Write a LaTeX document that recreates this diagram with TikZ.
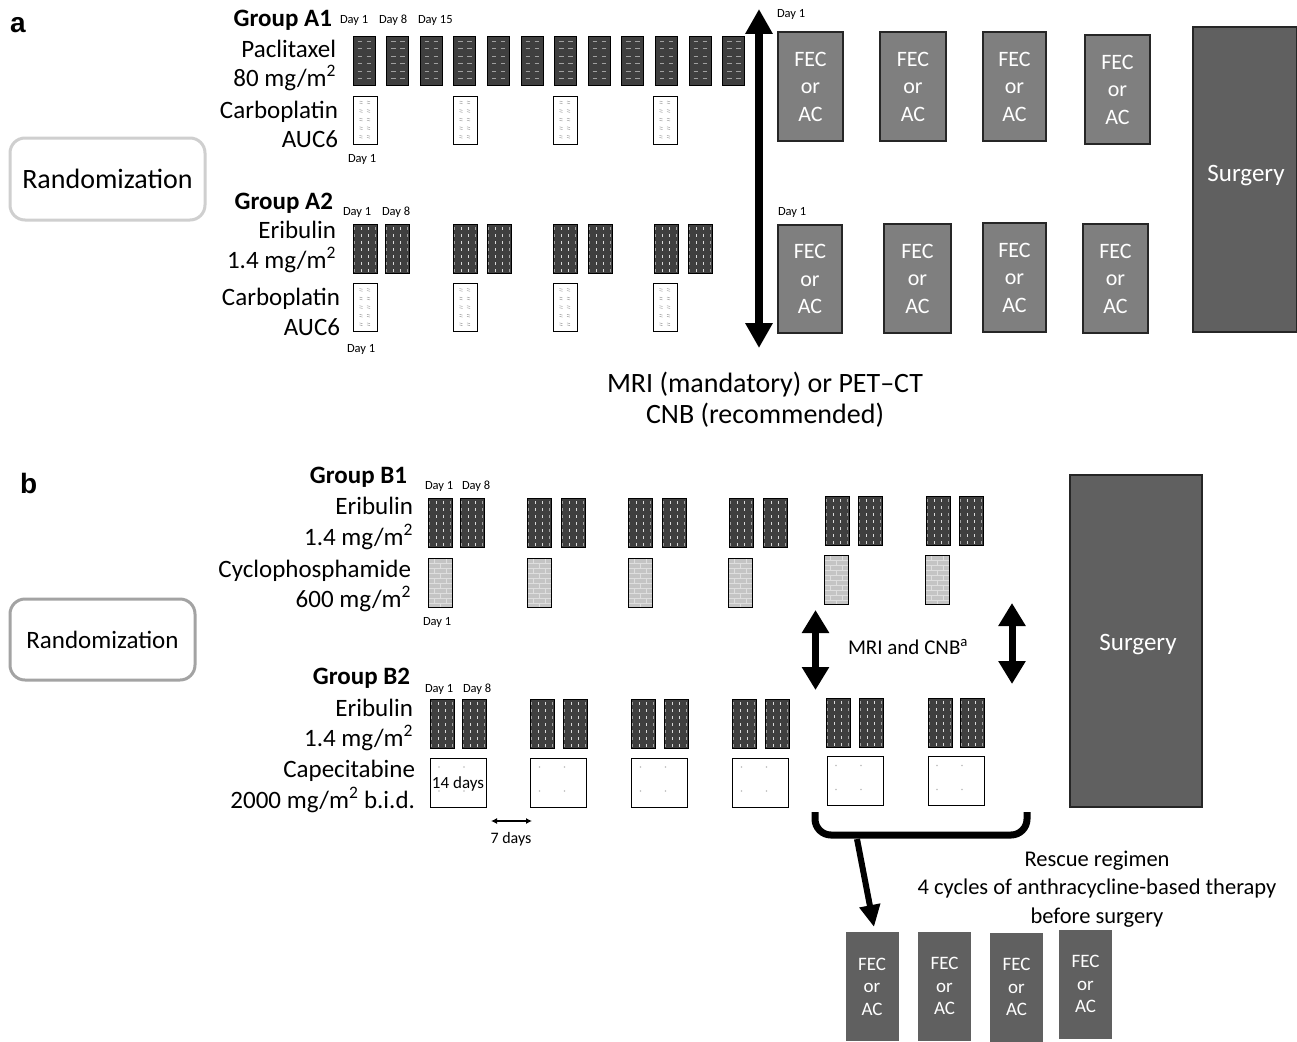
\documentclass[tikz,border=0pt]{standalone}
\usepackage{fontspec}
\setmainfont{Carlito}
\newfontfamily\panelfont{Liberation Sans}
\usetikzlibrary{arrows.meta,calc}

\definecolor{drugdark}{HTML}{3F3F3F}
\definecolor{fecgray}{HTML}{7F7F7F}
\definecolor{surggray}{HTML}{606060}
\definecolor{cyclogray}{HTML}{C4C4C4}
\definecolor{brickline}{HTML}{DEDEDE}
\definecolor{randAcol}{HTML}{CFCFCF}
\definecolor{randBcol}{HTML}{A3A3A3}
\definecolor{markgray}{HTML}{A0A0A0}

\newcommand{\sqm}{m\textsuperscript{2}}

\begin{document}
\begin{tikzpicture}[x=1pt,y=-1pt,
  every node/.style={inner sep=0pt, outer sep=0pt},
  lbl/.style={font=\fontsize{25}{30}\selectfont, anchor=base east},
  grp/.style={font=\fontsize{25}{30}\selectfont\bfseries, anchor=base east},
  daylbl/.style={font=\fontsize{12.5}{15}\selectfont, anchor=base west},
  panellbl/.style={font=\fontsize{28}{32}\panelfont\bfseries, anchor=base west},
  paclbox/.style={draw=black, line width=1pt, fill=drugdark, minimum width=22pt, minimum height=48pt,
    path picture={\foreach \r in {0,...,5}{
       \draw[markgray, line width=0.8pt] ($(path picture bounding box.north west)+(4.5,4.5+7.4*\r)$) -- ++(4.5,0);
       \draw[markgray, line width=0.8pt] ($(path picture bounding box.north west)+(13.5,4.5+7.4*\r)$) -- ++(4.5,0);}}},
  eribox/.style={draw=black, line width=1pt, fill=drugdark, minimum width=24pt, minimum height=49pt,
    path picture={
      \foreach \dx in {8.5,15.5}{\draw[white!85!black, line width=1pt, dash pattern=on 3pt off 4pt] ($(path picture bounding box.north west)+(\dx,3)$) -- ++(0,46);}
      \foreach \dx in {1.5,22.5}{\draw[markgray, line width=0.5pt, dash pattern=on 3pt off 4pt] ($(path picture bounding box.north west)+(\dx,3)$) -- ++(0,46);}}},
  carbox/.style={draw=black, line width=1pt, fill=white, minimum width=24pt, minimum height=48pt,
    path picture={\foreach \r in {0,...,4}{\foreach \dx in {6.5,14}{
      \draw[markgray, line width=0.5pt] ($(path picture bounding box.north west)+(\dx,5+8.6*\r)$) -- ++(3,0.8);
      \draw[markgray, line width=0.5pt] ($(path picture bounding box.north west)+(\dx,7+8.6*\r)$) -- ++(3,0.8);}}}},
  cycbox/.style={draw=black, line width=1pt, fill=cyclogray, minimum width=24pt, minimum height=49pt,
    path picture={
      \foreach \r in {1,...,9}{\draw[brickline, line width=0.7pt] ($(path picture bounding box.north west)+(0,5*\r)$) -- ++(24,0);}
      \foreach \r in {0,2,4,6,8}{
        \draw[brickline, line width=0.7pt] ($(path picture bounding box.north west)+(6,5*\r)$) -- ++(0,5);
        \draw[brickline, line width=0.7pt] ($(path picture bounding box.north west)+(18,5*\r)$) -- ++(0,5);}
      \foreach \r in {1,3,5,7,9}{
        \draw[brickline, line width=0.7pt] ($(path picture bounding box.north west)+(12,5*\r)$) -- ++(0,5);}}},
  capbox/.style={draw=black, line width=1pt, fill=white, minimum width=56pt, minimum height=49pt,
    path picture={\foreach \px/\py in {9/9,34/9,9/33,34/33}{
      \fill[markgray!70] ($(path picture bounding box.north west)+(\px,\py)$) circle (0.8pt);}}},
  fecA/.style={draw=black!85, line width=1.5pt, fill=fecgray, text=white, align=center,
    font=\fontsize{22}{27.5}\selectfont},
  surgbox/.style={draw=black!85, line width=1.5pt, fill=surggray, text=white,
    font=\fontsize{25}{30}\selectfont},
  fecR/.style={fill=surggray, text=white, align=center, minimum width=53pt, minimum height=109pt,
    font=\fontsize{19}{22.5}\selectfont},
  randbox/.style={line width=3pt, rounded corners=15pt, fill=white},
  bigarrow/.style={line width=8pt, {Triangle[width=26pt,length=25pt]}-{Triangle[width=26pt,length=25pt]}},
  midarrow/.style={line width=7pt, {Triangle[width=26pt,length=23pt]}-{Triangle[width=26pt,length=23pt]}},
]
\useasboundingbox (0,0) rectangle (1297,1041);
\fill[white] (0,0) rectangle (1297,1041);

% ================= panel a =================
\node[panellbl] (pa) at (10,33) {a};
\node[randbox, draw=randAcol, minimum width=195pt, minimum height=82pt,
      font=\fontsize{28}{32}\selectfont] (randA) at (107.5,179) {Randomization};

% Group A1
\node[grp] (gA1) at (332,27) {Group A1};
\node[daylbl] (dA1a) at (340,24) {Day 1};
\node[daylbl] (dA1b) at (379,24) {Day 8};
\node[daylbl] (dA1c) at (418,24) {Day 15};
\node[lbl] (pacl) at (336,57) {Paclitaxel};
\node[lbl] (pacld) at (336,86) {80 mg/\sqm};
\node[lbl] (carbA1) at (338,118) {Carboplatin};
\node[lbl] (carbA1d) at (338,147) {AUC6};
\node[daylbl] (dA1d) at (348,162) {Day 1};
\foreach \k in {0,...,11}{
  \node[paclbox] (pac\k) at (364+33.6*\k,61) {};
}
\foreach \x [count=\i] in {365,465,565,665}{
  \node[carbox] (cA1\i) at (\x,120) {};
}

% Group A2
\node[grp] (gA2) at (333,209) {Group A2};
\node[daylbl] (dA2a) at (343,215) {Day 1};
\node[daylbl] (dA2b) at (382,215) {Day 8};
\node[lbl] (eriA2) at (336,238) {Eribulin};
\node[lbl] (eriA2d) at (336,268) {1.4 mg/\sqm};
\node[lbl] (carbA2) at (340,305) {Carboplatin};
\node[lbl] (carbA2d) at (340,335) {AUC6};
\node[daylbl] (dA2c) at (347,352) {Day 1};
\foreach \x [count=\i] in {365,397,465,499,565,600,666,700}{
  \node[eribox] (eA2\i) at (\x,248.5) {};
}
\foreach \x [count=\i] in {365,465,565,665}{
  \node[carbox] (cA2\i) at (\x,307.5) {};
}

% assessment arrow
\coordinate (mriTop) at (759,9);
\coordinate (mriBot) at (759,348);
\draw[bigarrow] (mriTop) -- (mriBot);
\node[font=\fontsize{28}{31}\selectfont, align=center, anchor=base] (mriTxt) at (765,423)
  {MRI (mandatory) or PET–CT\\CNB (recommended)};

% FEC / AC cycles
\node[daylbl] (dFa) at (777,18) {Day 1};
\node[daylbl] (dFb) at (778,215) {Day 1};
\node[fecA, minimum width=65pt, minimum height=109pt] (fa1) at (810.5,86.5) {FEC\\or\\AC};
\node[fecA, minimum width=66pt, minimum height=109pt] (fa2) at (913,86.5) {FEC\\or\\AC};
\node[fecA, minimum width=63pt, minimum height=109pt] (fa3) at (1014.5,86.5) {FEC\\or\\AC};
\node[fecA, minimum width=65pt, minimum height=109pt] (fa4) at (1117.5,89.5) {FEC\\or\\AC};
\node[fecA, minimum width=64pt, minimum height=108pt] (fb1) at (810,279) {FEC\\or\\AC};
\node[fecA, minimum width=67pt, minimum height=109pt] (fb2) at (917.5,278.5) {FEC\\or\\AC};
\node[fecA, minimum width=63pt, minimum height=109pt] (fb3) at (1014.5,277.5) {FEC\\or\\AC};
\node[fecA, minimum width=65pt, minimum height=109pt] (fb4) at (1115.5,278.5) {FEC\\or\\AC};
\node[surgbox, minimum width=104pt, minimum height=305pt] (surgA) at (1245,179.5) {};
\node[text=white, font=\fontsize{25}{30}\selectfont] (surgAt) at (1246,176) {Surgery};

% ================= panel b =================
\node[panellbl] (pb) at (20,493) {b};
\node[randbox, draw=randBcol, minimum width=185pt, minimum height=81pt,
      font=\fontsize{25}{30}\selectfont] (randB) at (102.5,639.5) {Randomization};

% Group B1
\node[grp] (gB1) at (407,483) {Group B1};
\node[daylbl] (dB1a) at (425,489) {Day 1};
\node[daylbl] (dB1b) at (462,489) {Day 8};
\node[lbl] (eriB1) at (413,514) {Eribulin};
\node[lbl] (eriB1d) at (413,545) {1.4 mg/\sqm};
\node[lbl] (cycB1) at (411,577) {Cyclophosphamide};
\node[lbl] (cycB1d) at (411,607) {600 mg/\sqm};
\node[daylbl] (dB1c) at (423,625) {Day 1};
\foreach \x [count=\i] in {440,472,539,573,640,674,741,775}{
  \node[eribox] (eB1\i) at (\x,522.5) {};
}
\foreach \x [count=\i] in {837,870,938,971}{
  \node[eribox] (eB1x\i) at (\x,520.5) {};
}
\foreach \x [count=\i] in {440,539,640,740}{
  \node[cycbox] (yB1\i) at (\x,582.5) {};
}
\foreach \x [count=\i] in {836,937}{
  \node[cycbox] (yB1x\i) at (\x,580) {};
}

% Group B2
\node[grp] (gB2) at (410,684) {Group B2};
\node[daylbl] (dB2a) at (425,692) {Day 1};
\node[daylbl] (dB2b) at (463,692) {Day 8};
\node[lbl] (eriB2) at (413,716) {Eribulin};
\node[lbl] (eriB2d) at (413,746) {1.4 mg/\sqm};
\node[lbl] (capB2) at (415,777) {Capecitabine};
\node[lbl] (capB2d) at (415,808) {2000 mg/\sqm{} b.i.d.};
\foreach \x [count=\i] in {442,474,542,575,643,676,744,777}{
  \node[eribox] (eB2\i) at (\x,723.5) {};
}
\foreach \x [count=\i] in {838,871,940,972}{
  \node[eribox] (eB2x\i) at (\x,722.5) {};
}
\foreach \x [count=\i] in {458,558.5,659.5,760.5}{
  \node[capbox] (kB2\i) at (\x,782.5) {};
}
\foreach \x [count=\i] in {855,956}{
  \node[capbox] (kB2x\i) at (\x,781) {};
}
\node[font=\fontsize{17}{20}\selectfont] (fourteen) at (458,784) {14 days};

% 7-day gap
\coordinate (gapL) at (491,821);
\coordinate (gapR) at (532,821);
\draw[line width=1.2pt, {Latex[length=6pt,width=6pt]}-{Latex[length=6pt,width=6pt]}] (gapL) -- (gapR);
\node[font=\fontsize{16}{19}\selectfont] (sevenTxt) at (511,839) {7 days};

% MRI and CNB arrows
\coordinate (mL1) at (815.5,610);
\coordinate (mL2) at (815.5,690);
\coordinate (mR1) at (1012,603);
\coordinate (mR2) at (1012,684);
\draw[midarrow] (mL1) -- (mL2);
\draw[midarrow] (mR1) -- (mR2);
\node[font=\fontsize{21}{25}\selectfont, anchor=base west] (mriB) at (848,654) {MRI and CNB\textsuperscript{a}};

% Surgery b
\node[surgbox, minimum width=132pt, minimum height=332pt] (surgB) at (1136,641) {};
\node[text=white, font=\fontsize{25}{30}\selectfont] (surgBt) at (1138,645) {Surgery};

% bracket and rescue arrow
\coordinate (brL) at (815,812);
\coordinate (brR) at (1027,812);
\draw[line width=7pt, rounded corners=16pt] (brL) -- ++(0,23) -| (brR);
\coordinate (brS) at (857,839);
\coordinate (rescTip) at (874,927);
\draw[line width=6pt, -{Triangle[width=20pt,length=22pt]}] (brS) -- (rescTip);

\node[font=\fontsize{22.5}{28.5}\selectfont, align=center, anchor=base] (rescTxt) at (1097,923)
  {Rescue regimen\\4 cycles of anthracycline-based therapy\\before surgery};

\node[fecR] (r1) at (872,986.5) {FEC\\or\\AC};
\node[fecR] (r2) at (944.5,986) {FEC\\or\\AC};
\node[fecR] (r3) at (1016.5,987) {FEC\\or\\AC};
\node[fecR] (r4) at (1085.5,984) {FEC\\or\\AC};
\end{tikzpicture}
\end{document}
